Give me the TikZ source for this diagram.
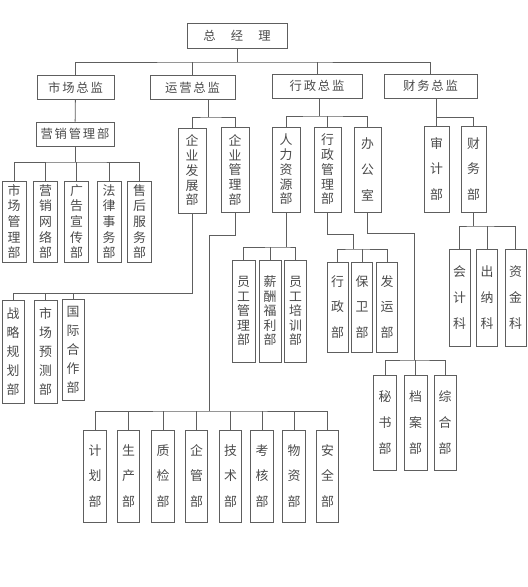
\documentclass[tikz,border=0pt]{standalone}
\usepackage{fontspec}
\setmainfont{Noto Sans CJK SC}
\newfontfamily\wide[LetterSpace=15]{Noto Sans CJK SC}
\usepackage{tikz}
\usetikzlibrary{positioning,calc}
\definecolor{boxline}{HTML}{5E5E5E}
\definecolor{boxtext}{HTML}{4A4A4A}

\begin{document}
\begin{tikzpicture}[x=0.03cm, y=-0.03cm,
    hbox/.style={draw=boxline, line width=.8pt, text=boxtext, minimum height=.72cm,
                 inner sep=0pt, font=\wide\fontsize{10.5}{12}\selectfont},
    vbox/.style={draw=boxline, line width=.8pt, text=boxtext, inner sep=0pt, align=center},
    five/.style={vbox, minimum width=.72cm, minimum height=#1, font=\fontsize{11}{12.6}\selectfont},
    three/.style={vbox, minimum width=.68cm, minimum height=#1, font=\fontsize{11}{22}\selectfont},
    ln/.style={draw=boxline, line width=.7pt}]
    \useasboundingbox (0,0) rectangle (527,587);
    % top level
    \node[hbox, minimum width=3cm, minimum height=.75cm] (zjl) at (237,35.5) {总\hspace{13pt}经\hspace{13pt}理};
    \node[hbox, minimum width=2.31cm] (sczj) at (75.5,87.5) {市场总监};
    \node[hbox, minimum width=2.55cm] (yyzj) at (192.5,87.5) {运营总监};
    \node[hbox, minimum width=2.7cm] (xzzj) at (317,86) {行政总监};
    \node[hbox, minimum width=2.79cm] (cwzj) at (430.5,86) {财务总监};
    \coordinate (b0) at (237,62);
    \draw[ln] (zjl) -- (b0);
    \draw[ln] (sczj.north) |- (b0) -| (cwzj.north);
    \draw[ln] (yyzj.north) -- (yyzj.north |- b0);
    \draw[ln] (xzzj.north) -- (xzzj.north |- b0);
    % market
    \node[hbox, minimum width=2.34cm] (yxgl) at (75,134) {营销管理部};
    \draw[ln] (sczj) -- (yxgl);
    \node[five=2.43cm, font=\fontsize{11}{13.4}\selectfont] (m1) at (14,221.5) {市\\场\\管\\理\\部};
    \node[five=2.43cm, font=\fontsize{11}{13.4}\selectfont] (m2) at (45.5,221.5) {营\\销\\网\\络\\部};
    \node[five=2.43cm, font=\fontsize{11}{13.4}\selectfont] (m3) at (76.5,221.5) {广\\告\\宣\\传\\部};
    \node[five=2.43cm, font=\fontsize{11}{13.4}\selectfont] (m4) at (109,221.5) {法\\律\\事\\务\\部};
    \node[five=2.43cm, font=\fontsize{11}{13.4}\selectfont] (m5) at (139.5,221.5) {售\\后\\服\\务\\部};
    \coordinate (b1) at (75,162);
    \draw[ln] (yxgl) -- (b1);
    \draw[ln] (m1.north) |- (b1) -| (m5.north);
    \draw[ln] (m2.north) -- (m2.north |- b1);
    \draw[ln] (m3.north) -- (m3.north |- b1);
    \draw[ln] (m4.north) -- (m4.north |- b1);
    % operations
    \node[five=2.55cm, minimum width=.84cm] (qyfz) at (192,170.5) {企\\业\\发\\展\\部};
    \node[five=2.55cm, minimum width=.84cm] (qygl) at (235,170) {企\\业\\管\\理\\部};
    \coordinate (b2) at (208,117);
    \draw[ln] (b2 |- yyzj.south) -- (b2);
    \draw[ln] (qyfz.north) |- (b2) -| (qygl.north);
    % administration
    \node[five=2.55cm, minimum width=.84cm] (rlzy) at (286,169.5) {人\\力\\资\\源\\部};
    \node[five=2.55cm, minimum width=.81cm] (xzgl) at (327.5,169.5) {行\\政\\管\\理\\部};
    \node[three=2.55cm, minimum width=.81cm] (bgs) at (367.5,169.5) {办\\公\\室};
    \coordinate (b3) at (319,116);
    \draw[ln] (b3 |- xzzj.south) -- (b3);
    \draw[ln] (rlzy.north) |- (b3) -| (bgs.north);
    \draw[ln] (xzgl.north) -- (xzgl.north |- b3);
    % finance
    \node[three=2.58cm, minimum width=.75cm] (sjb) at (436.5,169) {审\\计\\部};
    \node[three=2.58cm, minimum width=.75cm] (cwb) at (473.5,169) {财\\务\\部};
    \coordinate (b4) at (436.5,117);
    \draw[ln] (b4 |- cwzj.south) -- (sjb.north);
    \draw[ln] (b4) -| (cwb.north);
    % under 企业发展部
    \node[five=3.09cm, minimum width=.66cm, font=\fontsize{11}{16.2}\selectfont] (zl) at (13,351.5) {战\\略\\规\\划\\部};
    \node[five=3.09cm, minimum width=.69cm, font=\fontsize{11}{16.2}\selectfont] (ycb) at (45.5,351.5) {市\\场\\预\\测\\部};
    \node[five=3.03cm, minimum width=.66cm, font=\fontsize{11}{16.2}\selectfont] (gj) at (73,350) {国\\际\\合\\作\\部};
    \coordinate (b5) at (190,293);
    \draw[ln] (qyfz.south) |- (zl.north |- b5) -- (zl.north);
    \draw[ln] (ycb.north) -- (ycb.north |- b5);
    \draw[ln] (gj.north) -- (gj.north |- b5);
    % under 企业管理部
    \node[three=2.76cm] (jh) at (95,476) {计\\划\\部};
    \node[three=2.76cm] (scb) at (128.5,476) {生\\产\\部};
    \node[three=2.76cm] (zjb) at (163,476) {质\\检\\部};
    \node[three=2.76cm] (qg) at (196.5,476) {企\\管\\部};
    \node[three=2.76cm] (js) at (230.5,476) {技\\术\\部};
    \node[three=2.76cm] (kh) at (262,476) {考\\核\\部};
    \node[three=2.76cm] (wz) at (294,476) {物\\资\\部};
    \node[three=2.76cm] (aq) at (327.5,476) {安\\全\\部};
    \coordinate (b6) at (209,235);
    \coordinate (b7) at (209,411);
    \draw[ln] (qygl.south) |- (b6) -- (b7);
    \draw[ln] (jh.north) |- (b7) -| (aq.north);
    \draw[ln] (scb.north) -- (scb.north |- b7);
    \draw[ln] (zjb.north) -- (zjb.north |- b7);
    \draw[ln] (qg.north) -- (qg.north |- b7);
    \draw[ln] (js.north) -- (js.north |- b7);
    \draw[ln] (kh.north) -- (kh.north |- b7);
    \draw[ln] (wz.north) -- (wz.north |- b7);
    % under 人力资源部
    \node[five=3.06cm, minimum width=.69cm, font=\fontsize{11}{12.4}\selectfont] (yg1) at (243.5,311) {员\\工\\管\\理\\部};
    \node[five=3.06cm, minimum width=.66cm, font=\fontsize{11}{12.4}\selectfont] (xc) at (270,311) {薪\\酬\\福\\利\\部};
    \node[five=3.06cm, minimum width=.64cm, font=\fontsize{11}{12.4}\selectfont] (yg3) at (295.5,311) {员\\工\\培\\训\\部};
    \coordinate (b8) at (286,247);
    \draw[ln] (rlzy) -- (b8);
    \draw[ln] (yg1.north) |- (b8) -| (yg3.north);
    \draw[ln] (xc.north) -- (xc.north |- b8);
    % under 行政管理部
    \node[three=2.7cm, minimum width=.63cm] (xzb) at (337.5,307) {行\\政\\部};
    \node[three=2.7cm, minimum width=.61cm] (bwb) at (362,307) {保\\卫\\部};
    \node[three=2.7cm, minimum width=.61cm] (fyb) at (387,307) {发\\运\\部};
    \coordinate (b9) at (353,234);
    \coordinate (b10) at (353,249);
    \draw[ln] (xzgl.south) |- (b9) -- (b10);
    \draw[ln] (xzb.north) |- (b10) -| (fyb.north);
    \draw[ln] (bwb.north) -- (bwb.north |- b10);
    % under 办公室
    \node[three=2.85cm, minimum width=.71cm] (msb) at (385,422.5) {秘\\书\\部};
    \node[three=2.85cm, minimum width=.69cm] (dab) at (415.5,422.5) {档\\案\\部};
    \node[three=2.85cm, minimum width=.66cm] (zhb) at (445,422.5) {综\\合\\部};
    \coordinate (b11) at (414,233);
    \coordinate (b12) at (414,360);
    \draw[ln] (bgs.south) |- (b11) -- (b12);
    \draw[ln] (msb.north) |- (b12) -| (zhb.north);
    \draw[ln] (dab.north) -- (dab.north |- b12);
    % under 财务部
    \node[three=2.91cm, minimum width=.63cm] (kj) at (459.5,297.5) {会\\计\\科};
    \node[three=2.91cm, minimum width=.61cm] (cn) at (487,297.5) {出\\纳\\科};
    \node[three=2.91cm, minimum width=.63cm] (zjk) at (515.5,297.5) {资\\金\\科};
    \coordinate (b13) at (473.5,226);
    \draw[ln] (cwb) -- (b13);
    \draw[ln] (kj.north) |- (b13) -| (zjk.north);
    \draw[ln] (cn.north) -- (cn.north |- b13);
\end{tikzpicture}
\end{document}
